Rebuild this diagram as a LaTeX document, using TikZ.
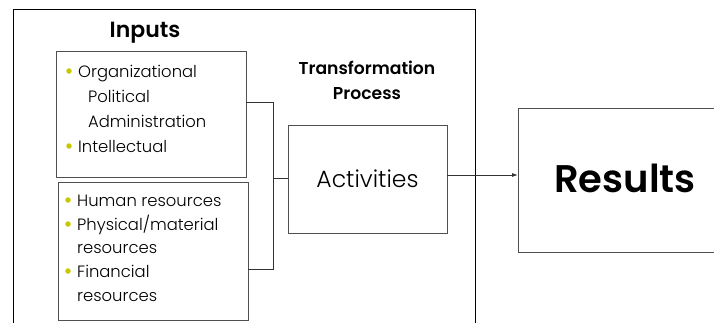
\documentclass[tikz,border=0pt]{standalone}
\usepackage{fontspec}
\setmainfont{Poppins}[BoldFont={Poppins SemiBold}]
\newfontfamily\lightface{Poppins Light}
\usetikzlibrary{arrows.meta}
\definecolor{bulletcol}{RGB}{200,200,0}
\definecolor{boxline}{RGB}{80,80,80}
\tikzset{
  frame/.style={draw=black, line width=0.9pt},
  panel/.style={draw=boxline, line width=0.9pt},
  link/.style={draw=black!80, line width=0.9pt},
  heading/.style={font=\fontsize{22}{24}\selectfont\bfseries, inner sep=0pt},
  subheading/.style={font=\fontsize{17.2}{25}\selectfont\bfseries, align=center, inner sep=0pt},
  item/.style={font=\lightface\fontsize{16.4}{18}\selectfont, anchor=base west, inner sep=0pt},
  dot/.style={circle, fill=bulletcol, inner sep=0pt, minimum size=5.5pt},
}
\begin{document}
\begin{tikzpicture}[x=1pt, y=-1pt]
  \useasboundingbox (0,0) rectangle (714,322);
  % outer frame, open at the bottom
  \draw[frame] (13,330) -- (13,9) -- (475,9) -- (475,330);

  \node[heading] (inputs) at (145,33) {Inputs};

  % input panels
  \node[panel, minimum width=190pt, minimum height=126pt, inner sep=0pt] (inA) at (151,114) {};
  \node[panel, minimum width=190pt, minimum height=138pt, inner sep=0pt] (inB) at (153,251) {};

  % first panel items
  \node[dot] (dA1) at (69,71) {};
  \node[item] (tA1) at (78,77) {Organizational};
  \node[item] (tA2) at (88,102) {Political};
  \node[item] (tA3) at (88,127) {Administration};
  \node[dot] (dA4) at (69,146) {};
  \node[item] (tA4) at (78,152) {Intellectual};

  % second panel items
  \node[dot] (dB1) at (68,200) {};
  \node[item] (tB1) at (77,206) {Human resources};
  \node[dot] (dB2) at (68,224) {};
  \node[item] (tB2) at (77,230) {Physical/material};
  \node[item] (tB3) at (77,253) {resources};
  \node[dot] (dB4) at (68,271) {};
  \node[item] (tB4) at (77,277) {Financial};
  \node[item] (tB5) at (77,301) {resources};

  \node[subheading] (trans) at (367,80) {Transformation\\Process};

  \node[panel, minimum width=159pt, minimum height=108pt, inner sep=0pt,
        font=\lightface\fontsize{23.5}{26}\selectfont] (act) at (367.5,179) {Activities};

  \node[panel, minimum width=220pt, minimum height=144pt, inner sep=0pt, anchor=west] (res) at (518,180) {};
  \node[font=\fontsize{38.5}{40}\selectfont\bfseries, inner sep=0pt] (restext) at (625,178) {Results};

  % bracket joining the inputs to the activities
  \coordinate (bTop) at (273,102);
  \coordinate (bBot) at (273,269);
  \coordinate (bMid) at (273,178);
  \draw[link] (inA.east |- bTop) -- (bTop) -- (bBot) -- (inB.east |- bBot);
  \draw[link] (bMid) -- (act.west |- bMid);

  % output arrow
  \draw[link, -{Latex[length=6pt,width=4pt]}] (act.east |- 0,175) -- (res.west |- 0,175);
\end{tikzpicture}
\end{document}
